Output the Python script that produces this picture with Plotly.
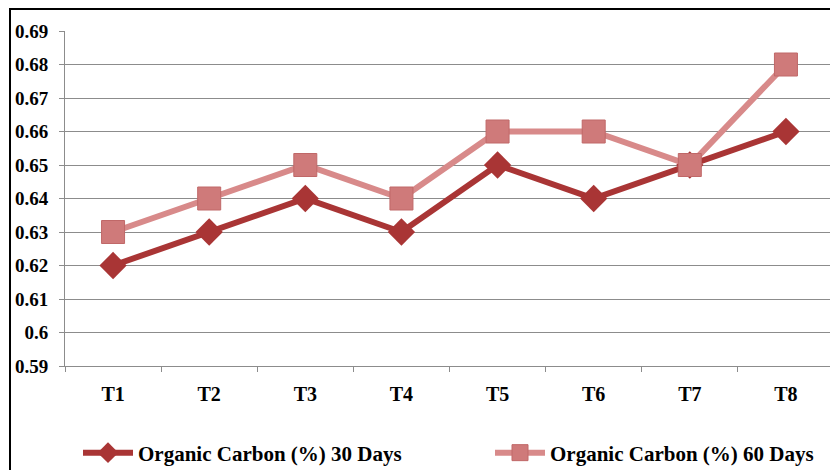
import plotly.graph_objects as go

categories = ["T1", "T2", "T3", "T4", "T5", "T6", "T7", "T8"]
oc_30 = [0.62, 0.63, 0.64, 0.63, 0.65, 0.64, 0.65, 0.66]
oc_60 = [0.63, 0.64, 0.65, 0.64, 0.66, 0.66, 0.65, 0.68]
y_ticks = [0.59, 0.60, 0.61, 0.62, 0.63, 0.64, 0.65, 0.66, 0.67, 0.68, 0.69]
y_tick_labels = ["0.59", "0.6", "0.61", "0.62", "0.63", "0.64", "0.65", "0.66", "0.67", "0.68", "0.69"]

font = "Liberation Serif"

fig = go.Figure()
fig.add_trace(go.Scatter(
    x=categories, y=oc_30, mode="lines+markers",
    name="Organic Carbon (%) 30 Days", legend="legend",
    line=dict(color="#A93535", width=6),
    marker=dict(symbol="diamond", size=21, color="#A93535"),
))
fig.add_trace(go.Scatter(
    x=categories, y=oc_60, mode="lines+markers",
    name="Organic Carbon (%) 60 Days", legend="legend2",
    line=dict(color="#D88A8A", width=6),
    marker=dict(symbol="square", size=23, color="#CF7A7A",
                line=dict(color="#C06868", width=1)),
))

# page body has an 8px offset
OFF = 8
W, H = 838 - OFF, 470 - OFF
ml, mt = 65 - OFF, 31 - OFF
pw, ph = 769, 335
mr, mb = W - ml - pw, H - mt - ph


def px_x(x):
    return (x - OFF - ml) / pw


def px_y(y):
    return (ph - (y - OFF - mt)) / ph


legend_font = dict(family=font, size=21, color="black", weight="bold")

fig.update_layout(
    width=W, height=H,
    margin=dict(l=ml, r=mr, t=mt, b=mb, autoexpand=False),
    paper_bgcolor="white", plot_bgcolor="white",
    font=dict(family=font, size=15, color="black"),
    showlegend=True,
    legend=dict(
        orientation="h", x=px_x(78), xanchor="left",
        y=px_y(453), yanchor="middle", font=legend_font,
        bgcolor="rgba(0,0,0,0)", itemwidth=50,
    ),
    legend2=dict(
        orientation="h", x=px_x(490), xanchor="left",
        y=px_y(453), yanchor="middle", font=legend_font,
        bgcolor="rgba(0,0,0,0)", itemwidth=50,
    ),
    xaxis=dict(
        type="category", tickson="boundaries", ticks="outside", ticklen=5,
        tickcolor="#8C8C8C", showline=True, linecolor="#8C8C8C", linewidth=1,
        showgrid=False, tickfont=dict(family=font, size=20, weight="bold"),
        ticklabelstandoff=10,
        range=[-0.5, 7.5],
    ),
    yaxis=dict(
        range=[0.59, 0.69], tickvals=y_ticks, ticktext=y_tick_labels,
        ticks="outside", ticklen=5, tickcolor="#8C8C8C",
        showline=True, linecolor="#8C8C8C", linewidth=1,
        showgrid=True, gridcolor="#8C8C8C", gridwidth=1,
        tickfont=dict(family=font, size=19, weight="bold"),
        ticklabelstandoff=7,
        zeroline=False,
    ),
    shapes=[dict(
        type="rect", xref="paper", yref="paper",
        x0=px_x(10), x1=1.1, y0=-0.5, y1=px_y(9),
        line=dict(color="black", width=2), fillcolor="rgba(0,0,0,0)",
        layer="below",
    )],
)

fig.write_html("out.html")
